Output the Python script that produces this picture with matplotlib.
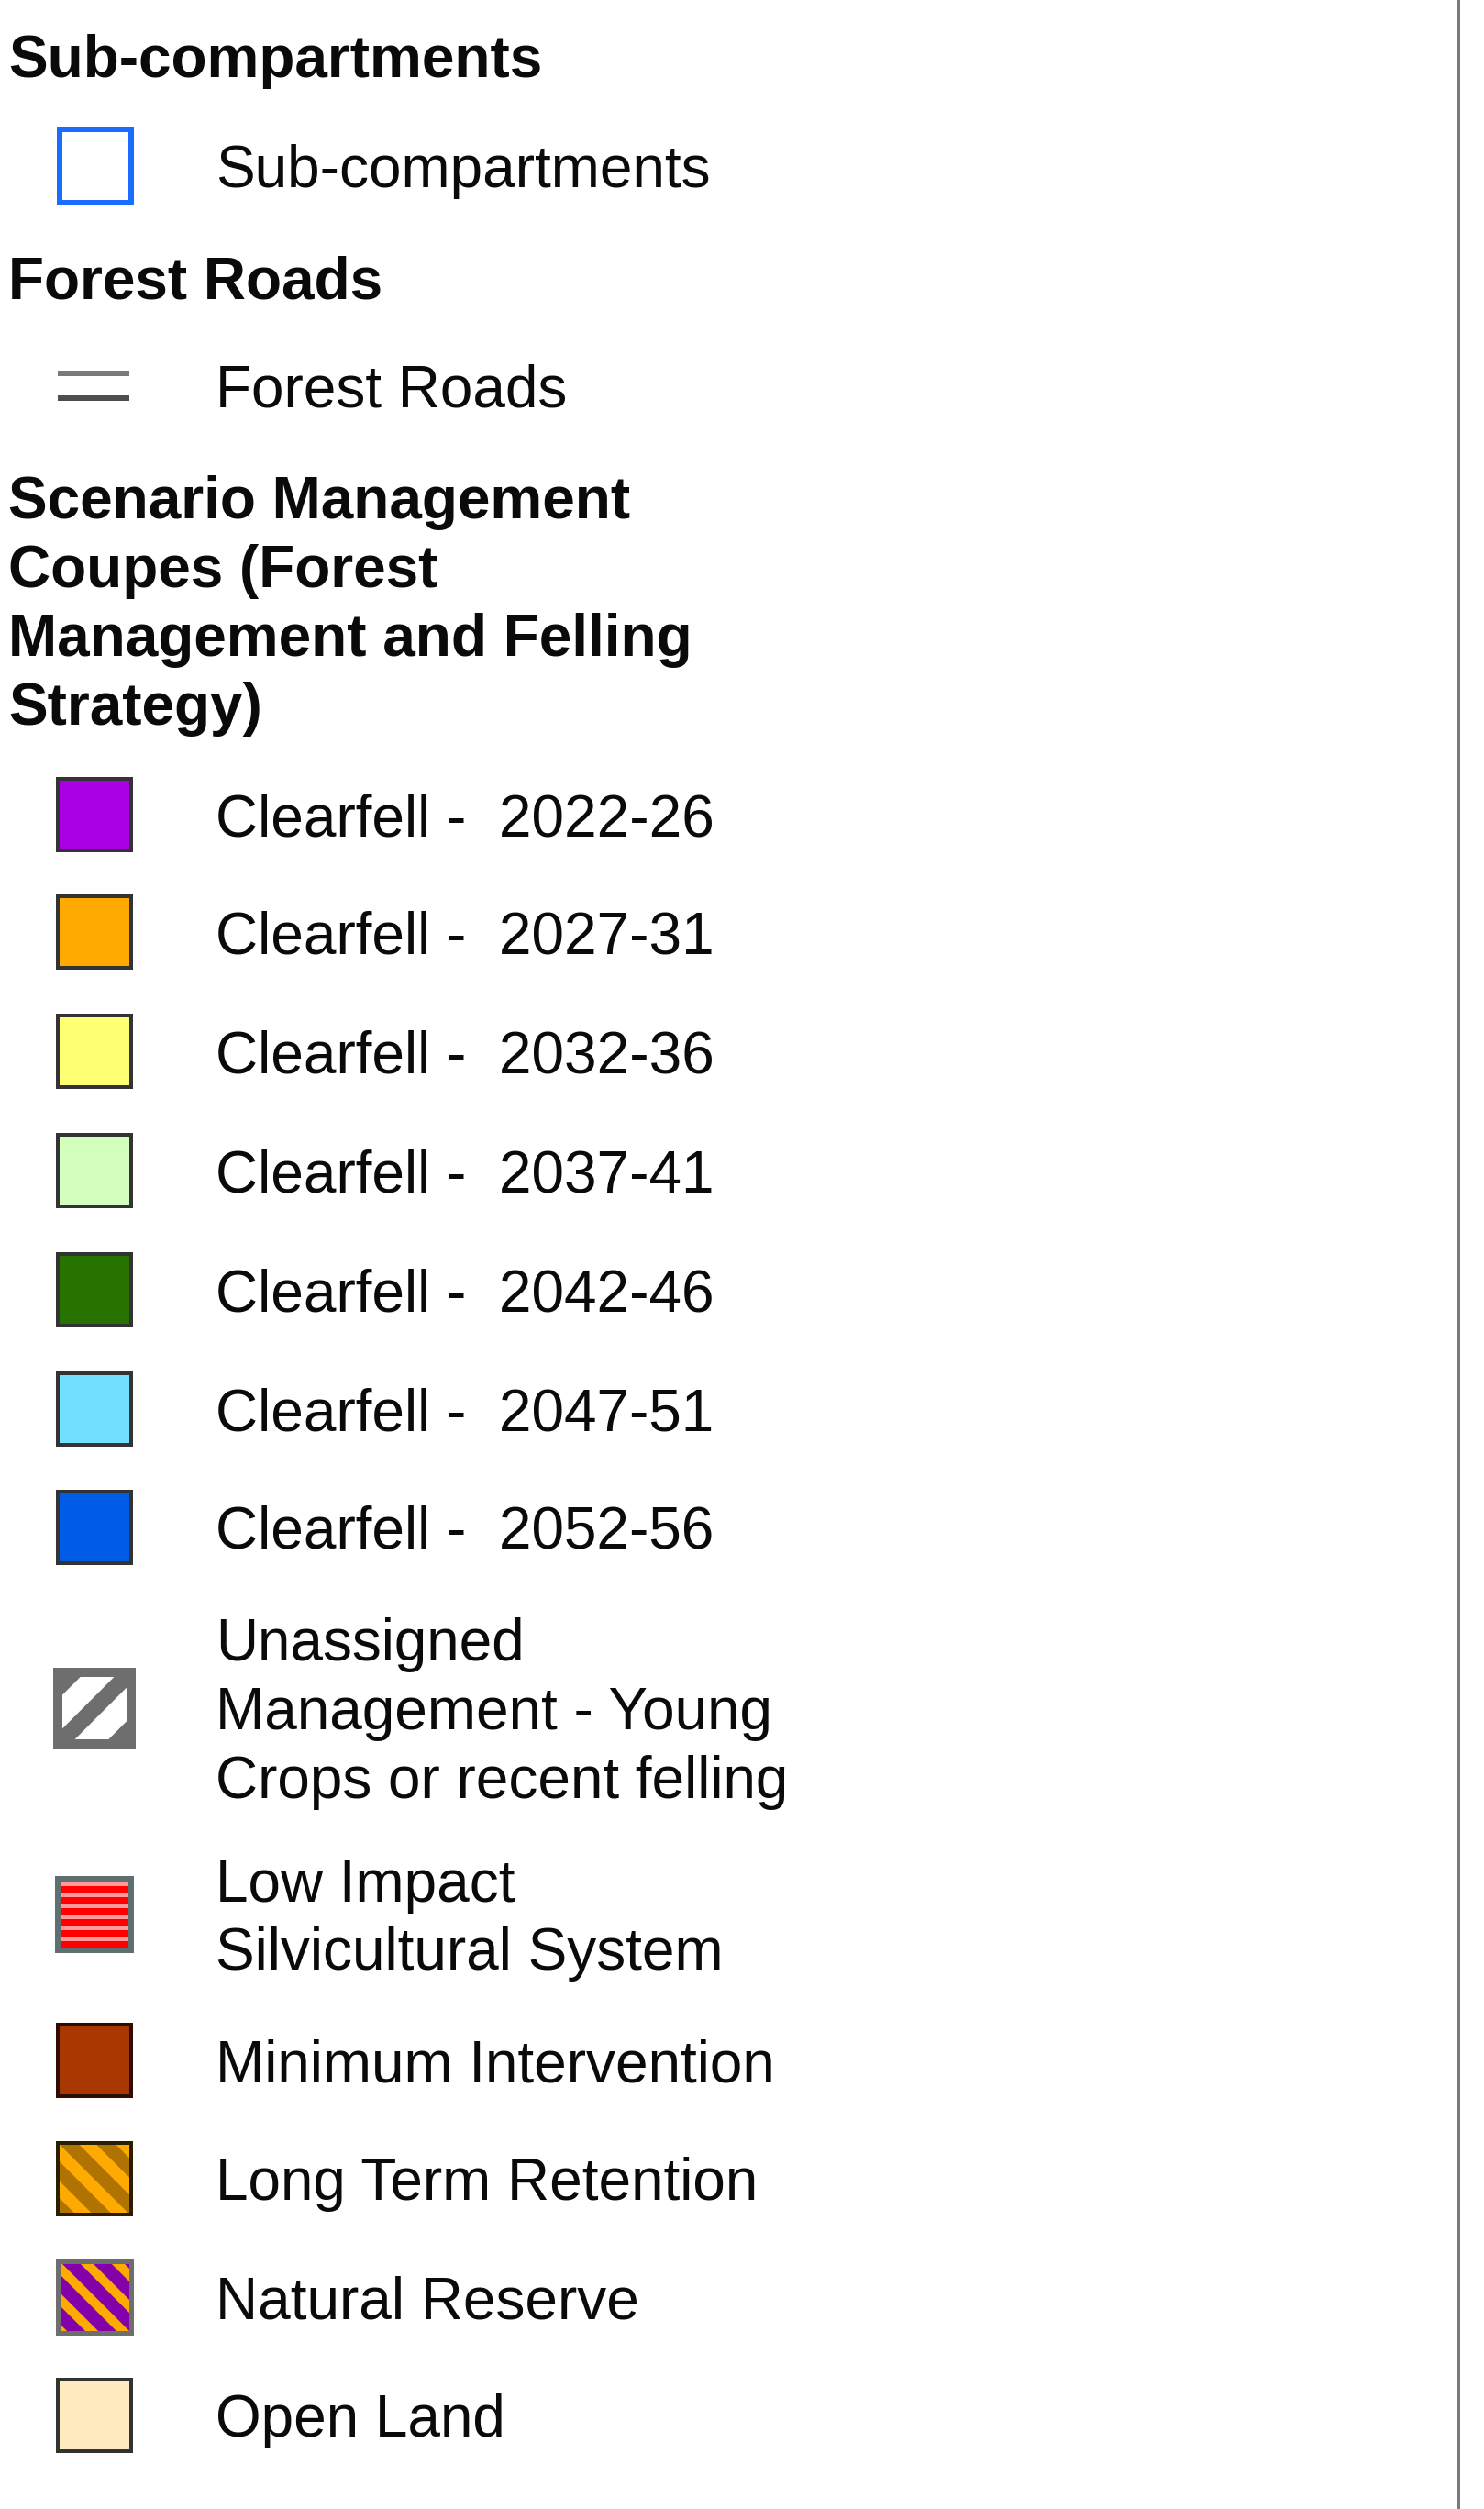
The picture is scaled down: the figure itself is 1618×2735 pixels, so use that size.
import matplotlib.pyplot as plt
from matplotlib.patches import Rectangle
import numpy as np

plt.rcParams['font.family'] = ['Liberation Sans', 'DejaVu Sans']

W, H = 1618, 2735

# legend content
group_titles = ['Sub-compartments', 'Forest Roads',
                'Scenario Management\nCoupes (Forest\nManagement and Felling\nStrategy)']
sub_label = 'Sub-compartments'
road_label = 'Forest Roads'
clearfell_periods = ['2022-26', '2027-31', '2032-36', '2037-41', '2042-46', '2047-51', '2052-56']
clearfell_colors = ['#aa00e6', '#ffaa00', '#ffff73', '#d3ffbe', '#267300', '#73dfff', '#005ce6']
other_labels = ['Unassigned\nManagement - Young\nCrops or recent felling',
                'Low Impact\nSilvicultural System',
                'Minimum Intervention', 'Long Term Retention',
                'Natural Reserve', 'Open Land']
other_kinds = ['unassigned', 'lowimpact', 'minint', 'ltr', 'reserve', 'open']

# layout (pixel rows)
title_y = [61, 302, 542]
sub_y = 181
road_y = 420
clearfell_y = [888, 1016, 1146, 1276, 1406, 1536, 1665]
other_y = [1862, 2087, 2246, 2375, 2504, 2633]
line_step = 75
text_x = 235
sw_x0, sw_w, sw_h = 63, 80, 78
fs = 46

fig = plt.figure(figsize=(W / 100, H / 100), dpi=100)
ax = fig.add_axes([0, 0, 1, 1])
ax.set_xlim(0, W)
ax.set_ylim(H, 0)
ax.axis('off')


def put_text(x, yc, s, bold=False):
    lines = s.split('\n')
    y0 = yc - (len(lines) - 1) * line_step / 2
    for i, ln in enumerate(lines):
        ax.text(x, y0 + i * line_step + 23, ln, fontsize=fs, va='baseline', ha='left',
                fontweight='bold' if bold else 'normal', color='#0a0a0a')


def stripes(yc, angle_dir, period, width, color, offset=0):
    # bands clipped to the swatch
    clip = Rectangle((sw_x0 + 2, yc - sw_h / 2 + 2), sw_w - 4, sw_h - 4, transform=ax.transData)
    cx = sw_x0 + sw_w / 2
    for k in np.arange(-4, 5):
        d = offset + k * period
        if angle_dir == 'h':
            xs = [sw_x0 - 10, sw_x0 + sw_w + 10]
            ys = [yc + d, yc + d]
        elif angle_dir == '/':
            xs = [cx - 100, cx + 100]
            ys = [yc + d + 100, yc + d - 100]
        else:
            xs = [cx - 100, cx + 100]
            ys = [yc + d - 100, yc + d + 100]
        ln, = ax.plot(xs, ys, color=color, lw=width * 0.72, solid_capstyle='butt')
        ln.set_clip_path(clip)


def swatch(yc, face, edge='#333333', lw=4):
    ax.add_patch(Rectangle((sw_x0, yc - sw_h / 2), sw_w, sw_h, facecolor=face,
                           edgecolor=edge, lw=lw * 0.72, zorder=1))


def border(yc, edge, lw=4):
    ax.add_patch(Rectangle((sw_x0, yc - sw_h / 2), sw_w, sw_h, facecolor='none',
                           edgecolor=edge, lw=lw * 0.72, zorder=3))


# group 1
put_text(9, title_y[0], group_titles[0], bold=True)
ax.add_patch(Rectangle((sw_x0 + 2, sub_y - 40), 78, 80, facecolor='white',
                       edgecolor='#1a6dff', lw=6 * 0.72))
put_text(text_x, sub_y, sub_label)

# group 2
put_text(9, title_y[1], group_titles[1], bold=True)
ax.plot([sw_x0, sw_x0 + 78], [road_y - 13, road_y - 13], color='#7a7a7a', lw=6 * 0.72,
        solid_capstyle='butt')
ax.plot([sw_x0, sw_x0 + 78], [road_y + 14, road_y + 14], color='#4e4e4e', lw=6 * 0.72,
        solid_capstyle='butt')
put_text(text_x, road_y, road_label)

# group 3
put_text(9, title_y[2] + 1.5 * line_step, group_titles[2], bold=True)
for yc, per, col in zip(clearfell_y, clearfell_periods, clearfell_colors):
    swatch(yc, col)
    put_text(text_x, yc, 'Clearfell -  ' + per)

for yc, lab, kind in zip(other_y, other_labels, other_kinds):
    if kind == 'unassigned':
        swatch(yc, '#6e6e6e', edge='#6e6e6e', lw=6)
        stripes(yc, '/', 62, 26, 'white', offset=-31)
        border(yc, '#6e6e6e', lw=10)
    elif kind == 'lowimpact':
        swatch(yc, '#ff0000', edge='#5f6e6e')
        stripes(yc, 'h', 12, 4, '#ff9a9a', offset=3)
        border(yc, '#5f6e6e', lw=6)
    elif kind == 'minint':
        swatch(yc, '#a83800', edge='#2e0c00')
    elif kind == 'ltr':
        swatch(yc, '#ffaa00', edge='#2a1e00')
        stripes(yc, '\\', 40, 15, '#b07200', offset=-10)
        border(yc, '#2a1e00')
    elif kind == 'reserve':
        swatch(yc, '#8400a8', edge='#6e6e6e')
        stripes(yc, '\\', 34, 10, '#ffaa00', offset=6)
        border(yc, '#6e6e6e', lw=5)
    else:
        swatch(yc, '#ffebbe', edge='#333333')
    put_text(text_x, yc, lab)

# panel edge
ax.plot([1590, 1590], [0, H], color='#7a7a7a', lw=3 * 0.72)

fig.savefig('out.png', dpi=100, facecolor='white')
